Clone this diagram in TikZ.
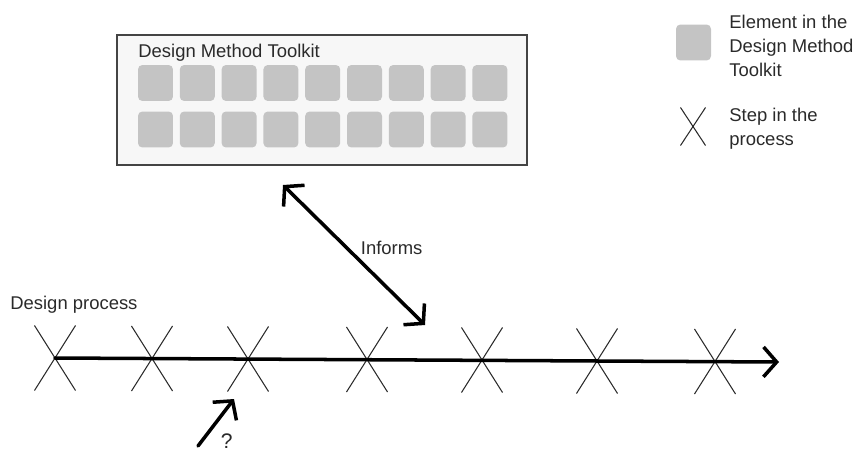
\documentclass[tikz,border=0pt]{standalone}
\usepackage{fontspec}
\setmainfont{Liberation Sans}
\usepackage{tikz}
\usetikzlibrary{arrows.meta, positioning, shapes.misc}
\definecolor{boxfill}{HTML}{F7F7F7}
\definecolor{boxline}{HTML}{444444}
\definecolor{elemgray}{HTML}{C4C4C4}
\definecolor{inkgray}{HTML}{2A2A2A}
\tikzset{
    toolkitbox/.style={rectangle, draw=boxline, line width=1pt, fill=boxfill, minimum width=8.2cm, minimum height=2.6cm},
    elementbox/.style={rectangle, fill=elemgray, rounded corners=2.5pt, minimum width=0.7cm, minimum height=0.72cm, inner sep=0pt},
    stepmark/.style={cross out, draw=inkgray, line width=0.6pt, minimum width=0.8cm, minimum height=1.28cm, inner sep=0pt},
    labeltext/.style={font=\fontsize{10.5}{13.6}\selectfont, text=inkgray, inner sep=0pt, align=left},
    arrow/.style={line width=2pt, line cap=round, -{Straight Barb[length=7.5pt, width=17pt, line width=2pt]}},
    twoway/.style={arrow, {Straight Barb[length=7.5pt, width=17pt, line width=2pt]}-{Straight Barb[length=7.5pt, width=17pt, line width=2pt]}}
}
\begin{document}
\begin{tikzpicture}[x=0.02cm, y=-0.02cm]
    \useasboundingbox (0,0) rectangle (861,453);

    % toolkit
    \node (toolkit) [toolkitbox] at (322,100) {};
    \node (title) [labeltext, anchor=west] at (138,53) {Design Method Toolkit};
    \foreach \i in {0,...,8} {
        \node (ea\i) [elementbox] at (155.5+41.8*\i,83) {};
        \node (eb\i) [elementbox] at (155.5+41.8*\i,129.5) {};
    }

    % legend
    \node (legelem) [elementbox] at (693.5,42.5) {};
    \node (legelemtxt) [labeltext, anchor=west] at (729,46) {Element in the\\Design Method\\Toolkit};
    \node (legstep) [stepmark, minimum width=0.48cm, minimum height=0.74cm] at (693,126.5) {};
    \node (legsteptxt) [labeltext, anchor=west] at (729,128.5) {Step in the\\process};

    % design process
    \node (proc) [labeltext, anchor=west] at (10,305) {Design process};
    \foreach \x/\y [count=\n] in {55/358,152/358.5,248/359,367/359.5,482/360,597/361,715/361.5} {
        \node (step\n) [stepmark] at (\x,\y) {};
    }
    \coordinate (tlend) at (779,362);
    \draw [arrow] (step1.center) -- (tlend);

    % informs
    \coordinate (infA) at (283,185);
    \coordinate (infB) at (425,325);
    \draw [twoway] (infA) -- node[labeltext, pos=0.45, right=7pt] {Informs} (infB);

    % unknown entry
    \coordinate (qA) at (198,446);
    \coordinate (qB) at (234,399);
    \draw [arrow] (qA) -- node[labeltext, font=\fontsize{12}{14}\selectfont, pos=0.1, right=10pt] {?} (qB);
\end{tikzpicture}
\end{document}
